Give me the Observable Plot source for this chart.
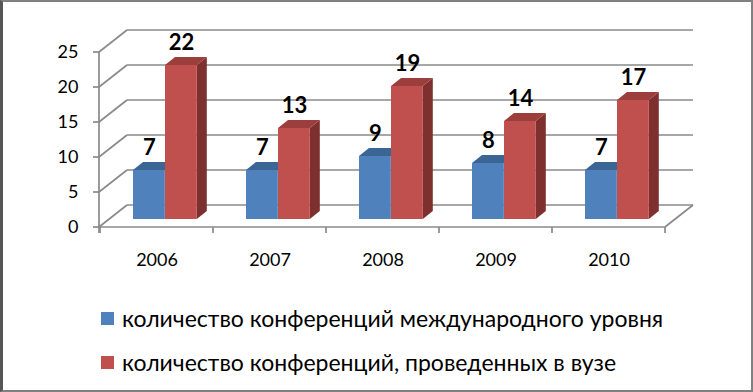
<!DOCTYPE html>
<html>
<head>
<meta charset="utf-8">
<script src="https://cdn.jsdelivr.net/npm/d3@7"></script>
<script src="https://cdn.jsdelivr.net/npm/@observablehq/plot@0.6"></script>
<style>
  html, body { margin: 0; padding: 0; background: #fff; }
  #chart { position: relative; width: 753px; height: 392px; overflow: hidden; background: #fff; }
  #chart svg { position: absolute; left: 0; top: 0; }
  #border { position: absolute; left: 0; top: 0; width: 753px; height: 392px; box-sizing: border-box;
            border: 2px solid #808080; border-left: 3px solid #555; pointer-events: none; }
  .legend { position: absolute; left: 101px; font-family: Lato, "Open Sans", sans-serif; font-size: 23px; color: #000; white-space: nowrap; }
  .legend .row { position: absolute; left: 0; display: flex; align-items: center; }
  .legend .sw { width: 13px; height: 13px; margin-right: 8px; flex: none; }
</style>
</head>
<body>
<div id="chart"></div>
<script>
// ---- data ----
const years = ["2006", "2007", "2008", "2009", "2010"];
const international = [7, 7, 9, 8, 7];
const university = [22, 13, 19, 14, 17];
const seriesNames = ["количество конференций международного уровня", "количество конференций, проведенных в вузе"];
const yTicks = [0, 5, 10, 15, 20, 25];

// ---- style / layout ----
const W = 753, H = 290;
const mL = 99, mR = 88, mT = 52, mB = 63;
const WALL = {dx: 28, dy: -22};   // depth of back wall
const BAR = {dx: 10, dy: -8};     // bar depth
const bw = (W - mL - mR) / years.length;
const barW = 32, groupLeft = 23;
const gridColor = "#8a8a8a";
const colors = {
  blue: {front: "#4f81bd", top: "#3a6594", side: "#2f5580"},
  red: {front: "#c0504d", top: "#9c3f3c", side: "#7d302e"}
};

const blueData = years.map((year, i) => ({year, value: international[i]}));
const redData = years.map((year, i) => ({year, value: university[i]}));

function walls(index, {x, y}, values, dims) {
  const g = d3.create("svg:g").attr("stroke", gridColor).attr("stroke-width", 1.7).attr("fill", "none");
  const x0 = dims.marginLeft, x1 = dims.width - dims.marginRight;
  const line = (a, b, c, d) => g.append("line").attr("x1", a).attr("y1", b).attr("x2", c).attr("y2", d);
  for (const t of yTicks) {
    const yy = y(t);
    line(x0 + WALL.dx, yy + WALL.dy, x1 + WALL.dx, yy + WALL.dy); // back wall
    line(x0, yy, x0 + WALL.dx, yy + WALL.dy);                       // side wall
    line(x0 - 6, yy, x0, yy);                                       // tick
  }
  const y0 = y(0);
  line(x0, y(yTicks[yTicks.length - 1]), x0, y0 + 6);   // front axis
  line(x0, y0, x1, y0);                                    // front floor edge
  line(x1, y0, x1 + WALL.dx, y0 + WALL.dy);                // right floor edge
  for (const yr of years) { const bx = x(yr); line(bx, y0, bx, y0 + 6); }
  line(x1, y0, x1, y0 + 6);
  return g.node();
}

function faces(c) {
  return (index, scales, values, dims, context, next) => {
    const g = next(index, scales, values, dims, context);
    const rects = Array.from(g.querySelectorAll("rect"));
    for (const r of rects) {
      const rx = +r.getAttribute("x"), ry = +r.getAttribute("y");
      const rw = +r.getAttribute("width"), rh = +r.getAttribute("height");
      const top = document.createElementNS("http://www.w3.org/2000/svg", "polygon");
      top.setAttribute("points", [[rx, ry], [rx + BAR.dx, ry + BAR.dy], [rx + rw + BAR.dx, ry + BAR.dy], [rx + rw, ry]].join(" "));
      top.setAttribute("fill", c.top);
      const side = document.createElementNS("http://www.w3.org/2000/svg", "polygon");
      side.setAttribute("points", [[rx + rw, ry], [rx + rw + BAR.dx, ry + BAR.dy], [rx + rw + BAR.dx, ry + rh + BAR.dy], [rx + rw, ry + rh]].join(" "));
      side.setAttribute("fill", c.side);
      r.parentNode.insertBefore(side, r);
      r.parentNode.insertBefore(top, r);
    }
    return g;
  };
}

const blueInL = groupLeft, blueInR = bw - groupLeft - barW;
const redInL = groupLeft + barW, redInR = bw - groupLeft - 2 * barW;
const blueDx = groupLeft + barW / 2 + BAR.dx - bw / 2;
const redDx = groupLeft + barW * 1.5 + BAR.dx - bw / 2;

const plot = Plot.plot({
  width: W, height: H,
  marginLeft: mL, marginRight: mR, marginTop: mT, marginBottom: mB,
  style: {fontFamily: "Lato, 'Open Sans', sans-serif", fontSize: "18px", color: "#000", background: "transparent", overflow: "visible"},
  x: {type: "band", domain: years, padding: 0, tickSize: 0, tickPadding: 26, label: null},
  y: {domain: [0, 25], ticks: yTicks, tickSize: 0, tickPadding: 21, label: null},
  marks: [
    walls,
    Plot.barY(blueData, {x: "year", y: "value", fill: colors.blue.front, insetLeft: blueInL, insetRight: blueInR, dx: BAR.dx, dy: BAR.dy, render: faces(colors.blue)}),
    Plot.barY(redData, {x: "year", y: "value", fill: colors.red.front, insetLeft: redInL, insetRight: redInR, dx: BAR.dx, dy: BAR.dy, render: faces(colors.red)}),
    Plot.text(blueData, {x: "year", y: "value", text: d => String(d.value), dx: blueDx, dy: -31, fontWeight: "bold", fontSize: 22, fill: "#000"}),
    Plot.text(redData, {x: "year", y: "value", text: d => String(d.value), dx: redDx, dy: -31, fontWeight: "bold", fontSize: 22, fill: "#000"})
  ]
});

const chart = document.getElementById("chart");
chart.appendChild(plot);

const legend = document.createElement("div");
legend.className = "legend";
legend.style.top = "0px";
const rowTops = [304, 348];
const swatches = [colors.blue.front, colors.red.front];
seriesNames.forEach((name, i) => {
  const row = document.createElement("div");
  row.className = "row";
  row.style.top = rowTops[i] + "px";
  const sw = document.createElement("span");
  sw.className = "sw";
  sw.style.background = swatches[i];
  const t = document.createElement("span");
  t.textContent = name;
  row.appendChild(sw); row.appendChild(t);
  legend.appendChild(row);
});
chart.appendChild(legend);

const border = document.createElement("div");
border.id = "border";
chart.appendChild(border);
</script>
</body>
</html>
